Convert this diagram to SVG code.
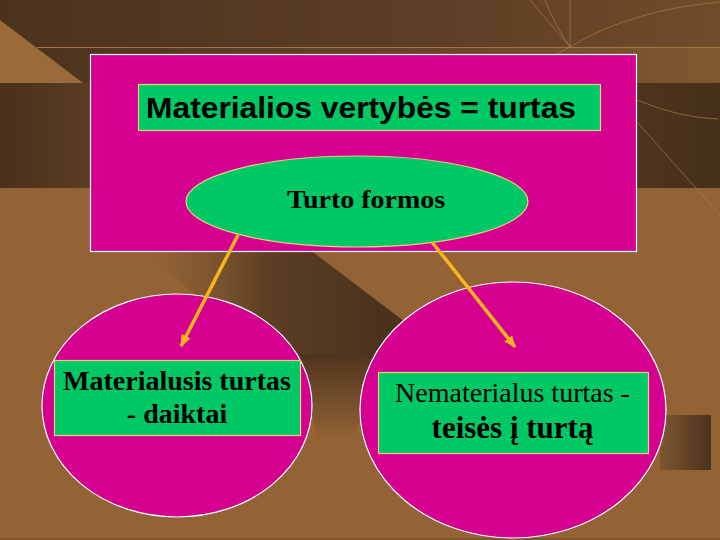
<svg xmlns="http://www.w3.org/2000/svg" width="720" height="540" viewBox="0 0 720 540">
<defs>
<linearGradient id="topG" x1="0" y1="0" x2="1" y2="0">
<stop offset="0" stop-color="#4b321c"/><stop offset="0.6" stop-color="#65452a"/><stop offset="1" stop-color="#80592f"/>
</linearGradient>
<linearGradient id="leftBox" x1="0" y1="0" x2="1" y2="0">
<stop offset="0" stop-color="#4a311b"/><stop offset="1" stop-color="#5a3d21"/>
</linearGradient>
<linearGradient id="rightBox" x1="0" y1="0" x2="1" y2="0">
<stop offset="0" stop-color="#4e341e"/><stop offset="1" stop-color="#46301b"/>
</linearGradient>
<linearGradient id="midG" x1="0" y1="0" x2="1" y2="0">
<stop offset="0" stop-color="#7a5430" stop-opacity="0"/><stop offset="0.45" stop-color="#5c3f23"/><stop offset="1" stop-color="#48301b"/>
</linearGradient>
<linearGradient id="brG" x1="0" y1="0" x2="1" y2="0">
<stop offset="0" stop-color="#7e5731"/><stop offset="1" stop-color="#4a321c"/>
</linearGradient>
<linearGradient id="tipG" x1="0" y1="0" x2="0" y2="1">
<stop offset="0" stop-color="#4e341e"/><stop offset="1" stop-color="#936335"/>
</linearGradient>
<marker id="ah" markerWidth="12" markerHeight="10" refX="11" refY="5" orient="auto" markerUnits="userSpaceOnUse">
<path d="M0,0 L12,5 L0,10 Z" fill="#f7b61e"/>
</marker>
<style>
.mag{fill:#d5008f;stroke:#ffffff;stroke-width:1.2}
.grn{fill:#00c864;stroke:#e6d080;stroke-width:1.2}
.tnr{font-family:"Liberation Serif","Times New Roman",serif;fill:#000;text-anchor:middle}
.b{font-weight:bold}
.conn{stroke:#f7b61e;stroke-width:3.5;fill:none;marker-end:url(#ah)}
.deco{stroke:#b07f4a;stroke-width:0.8;fill:none;opacity:0.8}
</style>
</defs>

<g id="background">
<rect x="0" y="0" width="720" height="540" fill="#936335"/>
<rect x="0" y="0" width="720" height="83" fill="url(#topG)"/>
<rect x="0" y="0" width="720" height="47" fill="#4f3520" opacity="0.35"/>
<polygon points="0,20 83,83 0,83" fill="#9a6a38"/>
<line x1="37" y1="47.5" x2="720" y2="47.5" stroke="#a37544" stroke-width="1"/>
<rect x="0" y="83" width="90" height="105" fill="url(#leftBox)"/>
<rect x="637" y="83" width="83" height="105" fill="url(#rightBox)"/>
<polygon points="150,252 313,252 405,322 385,355 300,355 230,330" fill="url(#midG)"/>
<polygon points="298,354 386,354 352,440 318,440" fill="url(#tipG)"/>
<rect x="660" y="415" width="51" height="55" fill="url(#brG)"/>
<path class="deco" d="M530,0 L570,47 M545,0 Q555,25 570,47 M570,0 L570,47 M570,47 Q630,10 720,2 M570,47 L555,55"/>
<path class="deco" d="M637,100 Q680,118 718,119 M637,122 L720,215"/>
<line x1="0" y1="539" x2="720" y2="539" stroke="#6b4a2a" stroke-width="1"/>
</g>

<g id="top-panel">
<rect class="mag" x="90.5" y="54.5" width="546" height="197"/>
</g>

<g id="title">
<rect class="grn" x="138.5" y="84.5" width="462" height="46"/>
<text x="146" y="118" font-family="'Liberation Sans',Arial,sans-serif" font-size="30" font-weight="bold" textLength="430" lengthAdjust="spacingAndGlyphs" fill="#000">Materialios vertybės = turtas</text>
</g>

<g id="forms">
<ellipse class="grn" cx="357" cy="201.5" rx="171" ry="45.5"/>
<text class="tnr b" x="366" y="208" font-size="26" textLength="158" lengthAdjust="spacingAndGlyphs">Turto formos</text>
</g>

<g id="material">
<ellipse class="mag" cx="177" cy="405.5" rx="135" ry="111.5"/>
<rect class="grn" x="54.5" y="360.5" width="246" height="75"/>
<text class="tnr b" x="177" y="390" font-size="28">Materialusis turtas</text>
<text class="tnr b" x="177" y="423" font-size="28">- daiktai</text>
</g>

<g id="nonmaterial">
<ellipse class="mag" cx="513" cy="410" rx="153" ry="128"/>
<rect class="grn" x="378.5" y="372.5" width="270" height="81"/>
<text class="tnr" x="512.5" y="402" font-size="28">Nematerialus turtas -</text>
<text class="tnr b" x="512.5" y="438" font-size="31">teisės į turtą</text>
</g>

<g id="connectors">
<line class="conn" x1="238" y1="235" x2="181" y2="346"/>
<line class="conn" x1="432" y1="242" x2="515" y2="347"/>
</g>
</svg>
